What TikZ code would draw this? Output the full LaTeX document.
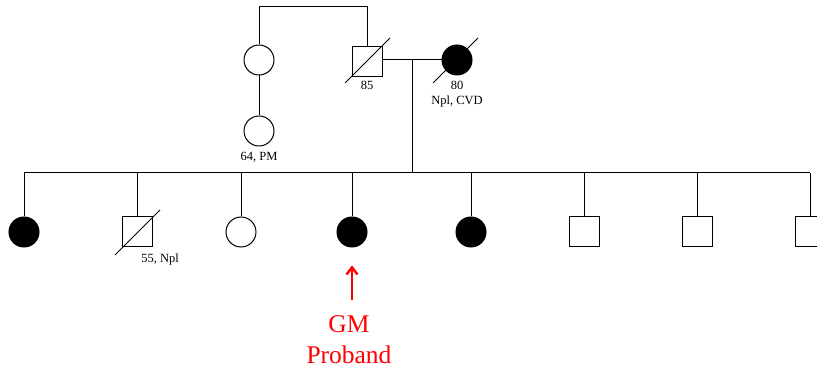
\documentclass[tikz,border=0pt]{standalone}
\usepackage{fontspec}
\setmainfont{Liberation Serif}
\usepackage{xcolor}
\usetikzlibrary{arrows.meta,calc}
\definecolor{prob}{HTML}{FF0000}
\tikzset{
  fem/.style    ={draw, circle, minimum size=30pt, inner sep=0pt, line width=1pt},
  femaff/.style ={fem, fill=black},
  mal/.style    ={draw, rectangle, minimum size=30pt, inner sep=0pt, line width=1pt},
  lbl/.style    ={font=\fontsize{12.5}{14}\selectfont, inner sep=0pt},
  ln/.style     ={line width=1pt},
  dead/.style   ={line width=1pt},
  arprob/.style ={-{Straight Barb[length=7pt,width=11pt]}, draw=prob, line width=2.4pt},
}
\begin{document}
\begin{tikzpicture}[x=1pt,y=-1pt]
\clip (0,0) rectangle (817,371);
% generation I / II
\node[fem] (sib) at (259,60) {};
\node[fem] (sibch) at (259,131) {};
\node[lbl] (sibchlbl) at (259,157) {64, PM};
\node[mal] (dad) at (367,62) {};
\node[lbl] (dadlbl) at (367,85) {85};
\node[femaff] (mom) at (457,60) {};
\node[lbl] (momlbl) at (457,85) {80};
\node[lbl] (momlbl2) at (457,101) {Npl, CVD};
\draw[ln] (sib.north) -- (sib.north |- 0,7) -| (dad.north);
\draw[ln] (sib.south) -- (sibch.north);
\draw[ln] (dad.east |- mom.west) -- (mom.west);
\draw[dead] ($(dad.center)+(-22,21)$) -- ($(dad.center)+(23,-24)$);
\draw[dead] ($(mom.center)+(-24,23)$) -- ($(mom.center)+(21,-22)$);
\coordinate (mar) at (412,60);
\coordinate (sibrow) at (412,173);
\draw[ln] (mar) -- (sibrow);
% generation III
\foreach \i/\x/\s in {1/24/femaff,2/137/mal,3/241/fem,4/352/femaff,5/471/femaff,6/584/mal,7/697/mal,8/810/mal}{
  \node[\s] (c\i) at (\x,232) {};
  \draw[ln] (c\i.north) -- (c\i.north |- sibrow);
}
\draw[ln] (c1.north |- sibrow) -- (c8.north |- sibrow);
\draw[dead] ($(c2.center)+(-22,23)$) -- ($(c2.center)+(23,-22)$);
\node[lbl] (c2lbl) at (160,259) {55, Npl};
% proband
\node[text=prob, align=center, font=\fontsize{25.5}{31}\selectfont] (prob) at (349,340) {GM\\Proband};
\draw[arprob] (prob.north -| c4.south) ++(0,-12) coordinate (pa) -- ($(c4.south)+(0,18)$);
\end{tikzpicture}
\end{document}
